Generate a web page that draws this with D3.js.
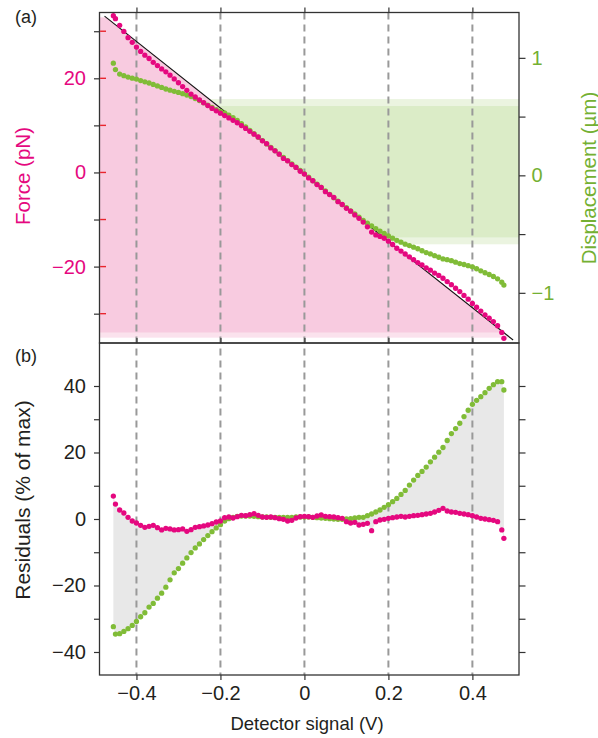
<!DOCTYPE html>
<html>
<head>
<meta charset="utf-8">
<script src="https://cdn.jsdelivr.net/npm/d3@7"></script>
<style>
  body { margin: 0; background: #fff; }
  svg { display: block; font-family: "Liberation Sans", Arial, Helvetica, sans-serif; }
</style>
</head>
<body>
<svg id="chart" width="598" height="738"></svg>
<script>
// Detector signal (V) for every sample
const signal = [-0.455, -0.45, -0.44, -0.43, -0.42, -0.41, -0.40, -0.39, -0.38, -0.37, -0.36,
  -0.35, -0.34, -0.33, -0.32, -0.31, -0.30, -0.29, -0.28, -0.27, -0.26, -0.25, -0.24, -0.23,
  -0.22, -0.21, -0.20, -0.19, -0.18, -0.17, -0.16, -0.15, -0.14, -0.13, -0.12, -0.11, -0.10,
  -0.09, -0.08, -0.07, -0.06, -0.05, -0.04, -0.03, -0.02, -0.01, 0.00, 0.01, 0.02, 0.03, 0.04,
  0.05, 0.06, 0.07, 0.08, 0.09, 0.10, 0.11, 0.12, 0.13, 0.14, 0.15, 0.16, 0.17, 0.18, 0.19,
  0.20, 0.21, 0.22, 0.23, 0.24, 0.25, 0.26, 0.27, 0.28, 0.29, 0.30, 0.31, 0.32, 0.33, 0.34,
  0.35, 0.36, 0.37, 0.38, 0.39, 0.40, 0.41, 0.42, 0.43, 0.44, 0.45, 0.46, 0.47, 0.475];

// Force (pN)
const force = [33.3, 32.67, 31.26, 29.95, 28.64, 27.64, 26.63, 25.72, 24.92, 24.21, 23.40,
  22.70, 21.99, 21.38, 20.67, 19.87, 19.06, 18.25, 17.45, 16.64, 16.03, 15.43, 14.82, 14.21,
  13.60, 13.10, 12.59, 12.08, 11.58, 11.07, 10.56, 9.96, 9.35, 8.74, 8.13, 7.53, 6.72,
  6.11, 5.21, 4.60, 3.89, 2.99, 2.48, 1.67, 1.06, 0.26, -0.35, -1.16, -1.76, -2.57, -3.18,
  -4.09, -4.69, -5.30, -6.21, -6.81, -7.62, -8.23, -9.03, -9.74, -10.55, -11.56, -12.66, -13.27, -13.58, -13.98,
  -14.59, -15.30, -16.10, -16.71, -17.32, -17.93, -18.53, -19.14, -19.65, -20.25, -20.76, -21.37, -21.87, -22.48, -23.19,
  -23.85, -24.60, -25.31, -26.12, -26.92, -27.83, -28.64, -29.44, -30.25, -30.96, -31.67, -32.57, -33.98, -35.23];

// Displacement (µm)
const displacement = [0.955, 0.900, 0.862, 0.848, 0.836, 0.827, 0.819, 0.807, 0.796, 0.786, 0.774,
  0.761, 0.748, 0.735, 0.725, 0.715, 0.706, 0.695, 0.683, 0.670, 0.654, 0.637, 0.617, 0.598,
  0.579, 0.560, 0.545, 0.532, 0.512, 0.492, 0.467, 0.440, 0.412, 0.383, 0.354, 0.325, 0.296,
  0.267, 0.238, 0.210, 0.181, 0.153, 0.125, 0.097, 0.069, 0.041, 0.013, -0.016, -0.045, -0.074, -0.103,
  -0.133, -0.162, -0.191, -0.220, -0.249, -0.276, -0.303, -0.329, -0.356, -0.384, -0.407, -0.431, -0.453, -0.475, -0.495,
  -0.516, -0.535, -0.553, -0.569, -0.586, -0.598, -0.611, -0.625, -0.642, -0.657, -0.669, -0.684, -0.697, -0.711, -0.718,
  -0.726, -0.739, -0.751, -0.759, -0.769, -0.779, -0.795, -0.813, -0.829, -0.844, -0.861, -0.881, -0.909, -0.934];

// Residuals (% of max) of force and displacement
const residualForce = [6.9, 4.5, 2.7, 1.8, 0.5, -0.6, -1.2, -1.9, -2.5, -2.2, -1.9,
  -2.6, -3.3, -2.8, -3.0, -3.3, -3.2, -3.0, -3.7, -3.2, -2.5, -2.3, -2.1, -1.8,
  -1.4, -0.9, -0.6, 0.4, 0.6, 0.3, 0.7, 1.1, 1.0, 1.3, 1.6, 1.1, 0.6,
  0.5, 0.6, 0.4, 0.1, -0.1, -0.6, -0.4, 0.3, 0.7, 0.8, 0.7, 0.5, 0.9, 1.2,
  0.8, 0.7, 0.6, 0.4, 0.2, -0.8, -1.2, -1.0, -1.8, -1.6, -1.3, -3.5, -0.8, -0.3, -0.1,
  0.2, 0.4, 0.6, 0.8, 0.6, 0.8, 1.0, 1.1, 1.3, 1.5, 1.7, 2.1, 2.6, 3.2, 2.4,
  2.1, 2.0, 1.7, 1.5, 1.3, 1.0, 0.6, 0.2, 0.0, -0.2, -0.4, -0.8, -3.3, -5.8];

const residualDisplacement = [-32.4, -34.6, -34.5, -33.8, -33.0, -32.0, -30.8, -29.4, -28.2, -26.5, -25.4,
  -23.8, -22.3, -20.5, -18.3, -16.2, -14.9, -13.3, -11.7, -10.1, -8.7, -7.5, -6.2, -5.0,
  -3.8, -2.7, -1.7, -0.6, 0.1, 0.5, 0.8, 0.9, 0.9, 0.9, 0.8, 0.7, 0.6,
  0.6, 0.5, 0.5, 0.5, 0.5, 0.5, 0.5, 0.6, 0.6, 0.6, 0.6, 0.5, 0.4, 0.3,
  0.2, 0.1, 0.0, -0.1, -0.1, 0.0, 0.1, 0.3, 0.5, 0.5, 1.0, 1.5, 2.1, 2.7, 3.5,
  4.3, 5.2, 6.2, 7.4, 8.6, 10.2, 11.7, 13.1, 14.3, 15.6, 17.2, 18.6, 20.1, 21.5, 23.6,
  25.7, 27.2, 28.8, 30.8, 32.7, 34.5, 35.7, 36.8, 38.0, 39.3, 40.4, 41.3, 41.3, 38.8];

// Linear calibration fit (endpoints)
const fitSignal = [-0.476, 0.497];
const fitForce = [33.2, -35.6];

// Shaded ranges: force range (pink) and displacement range (green)
const forceBand = [-34.0, 32.85];
const forceBandSoft = [-35.1, 33.05];
const dispBand = [-0.528, 0.59];
const dispBandSoft = [-0.587, 0.649];

// Ticks
const signalTicks = [-0.4, -0.2, 0, 0.2, 0.4];
const forceTicks = [-30, -20, -10, 0, 10, 20, 30];
const forceLabels = [-20, 0, 20];
const dispTicks = [-1, -0.5, 0, 0.5, 1];
const dispLabels = [-1, 0, 1];
const residTicks = [-40, -30, -20, -10, 0, 10, 20, 30, 40];
const residLabels = [-40, -20, 0, 20, 40];

const PINK = "#e5087f", GREEN = "#80bc37", GREEN_TEXT = "#74b032", INK = "#231f20";

const svg = d3.select("#chart");
const L = 99.5, R = 519, TA = 12.5, BA = 343, BB = 675;

const x = d3.scaleLinear().domain([-0.488, 0.511]).range([L, R]);
const yF = d3.scaleLinear().domain([-36.23, 33.98]).range([BA, TA]);
const yD = d3.scaleLinear().domain([-1.427, 1.386]).range([BA, TA]);
const yR = d3.scaleLinear().domain([-46.92, 52.93]).range([BB, BA]);
const fitScale = d3.scaleLinear().domain(fitSignal).range(fitForce);

const defs = svg.append("defs");
defs.append("clipPath").attr("id", "clipA")
  .append("rect").attr("x", L).attr("y", TA).attr("width", R - L).attr("height", BA - TA);
const xd = x.domain();
defs.append("clipPath").attr("id", "belowFit")
  .append("polygon")
  .attr("points", [
    [x(xd[0]), yF(fitScale(xd[0]))],
    [x(xd[1]), yF(fitScale(xd[1]))],
    [x(xd[1]), BA], [x(xd[0]), BA]
  ].map(p => p.join(",")).join(" "));

// Panel (a) shading
const shadeA = svg.append("g").attr("clip-path", "url(#clipA)");
shadeA.append("rect").attr("x", L).attr("width", R - L)
  .attr("y", yD(dispBandSoft[1])).attr("height", yD(dispBandSoft[0]) - yD(dispBandSoft[1]))
  .attr("fill", "#ebf4e0");
shadeA.append("rect").attr("x", L).attr("width", R - L)
  .attr("y", yD(dispBand[1])).attr("height", yD(dispBand[0]) - yD(dispBand[1]))
  .attr("fill", "#dbecc7");
const pinkG = shadeA.append("g").attr("clip-path", "url(#belowFit)");
pinkG.append("rect").attr("x", L).attr("width", R - L)
  .attr("y", yF(forceBandSoft[1])).attr("height", yF(forceBandSoft[0]) - yF(forceBandSoft[1]))
  .attr("fill", "#fbe2ed");
pinkG.append("rect").attr("x", L).attr("width", R - L)
  .attr("y", yF(forceBand[1])).attr("height", yF(forceBand[0]) - yF(forceBand[1]))
  .attr("fill", "#f8cbe0");

// Panel (b): grey area between the two residual series
const rows = signal.map((s, i) => ({ s, f: force[i], d: displacement[i], rf: residualForce[i], rd: residualDisplacement[i] }));
svg.append("path").datum(rows)
  .attr("d", d3.area().x(d => x(d.s)).y0(d => yR(d.rf)).y1(d => yR(d.rd)))
  .attr("fill", "#e8e8e8");

// Dashed guides through both panels
svg.append("g").selectAll("line").data(signalTicks).join("line")
  .attr("x1", d => x(d)).attr("x2", d => x(d))
  .attr("y1", TA).attr("y2", BB)
  .attr("stroke", "#999").attr("stroke-width", 2).attr("stroke-dasharray", "7,5");

// Fit line
svg.append("line")
  .attr("x1", x(fitSignal[0])).attr("y1", yF(fitForce[0]))
  .attr("x2", x(fitSignal[1])).attr("y2", yF(fitForce[1]))
  .attr("stroke", "#111").attr("stroke-width", 1.1);

// Data points
const r = 2.65;
svg.append("g").selectAll("circle").data(rows).join("circle")
  .attr("cx", d => x(d.s)).attr("cy", d => yD(d.d)).attr("r", r).attr("fill", GREEN);
svg.append("g").selectAll("circle").data(rows).join("circle")
  .attr("cx", d => x(d.s)).attr("cy", d => yF(d.f)).attr("r", r).attr("fill", PINK);
svg.append("g").selectAll("circle").data(rows).join("circle")
  .attr("cx", d => x(d.s)).attr("cy", d => yR(d.rd)).attr("r", r).attr("fill", GREEN);
svg.append("g").selectAll("circle").data(rows).join("circle")
  .attr("cx", d => x(d.s)).attr("cy", d => yR(d.rf)).attr("r", r).attr("fill", PINK);

// Frames
[[TA, BA], [BA, BB]].forEach(([t, b]) => {
  svg.append("rect").attr("x", L).attr("y", t).attr("width", R - L).attr("height", b - t)
    .attr("fill", "none").attr("stroke", "#333").attr("stroke-width", 1.3);
});

const fmtNum = v => (v === 0 ? "0" : d3.format(Number.isInteger(v) ? "d" : ".1f")(v));
function styleAxis(g, color) {
  g.select(".domain").remove();
  g.selectAll(".tick line").attr("stroke", "#333").attr("stroke-width", 1.2);
  g.selectAll(".tick text").attr("fill", color || INK).attr("font-size", 20)
    .attr("font-family", "\"Liberation Sans\", Arial, sans-serif");
}

// Panel (a) axes
svg.append("g").attr("transform", `translate(${L},0)`)
  .call(d3.axisLeft(yF).tickValues(forceTicks).tickSize(5.5).tickPadding(8)
    .tickFormat(v => forceLabels.includes(v) ? fmtNum(v) : ""))
  .call(g => styleAxis(g, PINK));
svg.append("g").selectAll("line").data(forceTicks).join("line")
  .attr("x1", L + 0.6).attr("x2", L + 6.5).attr("y1", d => yF(d)).attr("y2", d => yF(d))
  .attr("stroke", "#e8262e").attr("stroke-width", 1.4);
svg.append("g").attr("transform", `translate(${R},0)`)
  .call(d3.axisRight(yD).tickValues(dispTicks).tickSize(6.5).tickPadding(6)
    .tickFormat(v => dispLabels.includes(v) ? fmtNum(v) : ""))
  .call(g => styleAxis(g, GREEN_TEXT));
svg.append("g").attr("transform", `translate(0,${TA})`)
  .call(d3.axisTop(x).tickValues(signalTicks).tickSize(5).tickFormat(""))
  .call(g => styleAxis(g));

// Panel (b) axes
svg.append("g").attr("transform", `translate(${L},0)`)
  .call(d3.axisLeft(yR).tickValues(residTicks).tickSize(5.5).tickPadding(8)
    .tickFormat(v => residLabels.includes(v) ? fmtNum(v) : ""))
  .call(g => styleAxis(g));
svg.append("g").attr("transform", `translate(${R},0)`)
  .call(d3.axisRight(yR).tickValues(residTicks).tickSize(6.5).tickFormat(""))
  .call(g => styleAxis(g));
svg.append("g").attr("transform", `translate(0,${BA})`)
  .call(d3.axisTop(x).tickValues(signalTicks).tickSize(5).tickFormat(""))
  .call(g => styleAxis(g));
svg.append("g").attr("transform", `translate(0,${BB})`)
  .call(d3.axisBottom(x).tickValues(signalTicks).tickSize(5).tickPadding(6).tickFormat(fmtNum))
  .call(g => styleAxis(g));

// Titles and panel letters
const title = (txt, tx, ty, rot, color, size) => svg.append("text")
  .attr("transform", `translate(${tx},${ty}) rotate(${rot})`)
  .attr("text-anchor", "middle").attr("dominant-baseline", "central")
  .attr("font-size", size).attr("fill", color).text(txt);
title("Force (pN)", 22, 176, -90, PINK, 20.5);
title("Residuals (% of max)", 22, 500, -90, INK, 21);
title("Displacement (\u00b5m)", 588, 178, -90, GREEN_TEXT, 20.5);
svg.append("text").attr("x", 307).attr("y", 730).attr("text-anchor", "middle")
  .attr("font-size", 18.5).attr("fill", INK).text("Detector signal (V)");
svg.append("text").attr("x", 15).attr("y", 23).attr("font-size", 18).attr("fill", INK).text("(a)");
svg.append("text").attr("x", 15).attr("y", 362).attr("font-size", 18).attr("fill", INK).text("(b)");
</script>
</body>
</html>
